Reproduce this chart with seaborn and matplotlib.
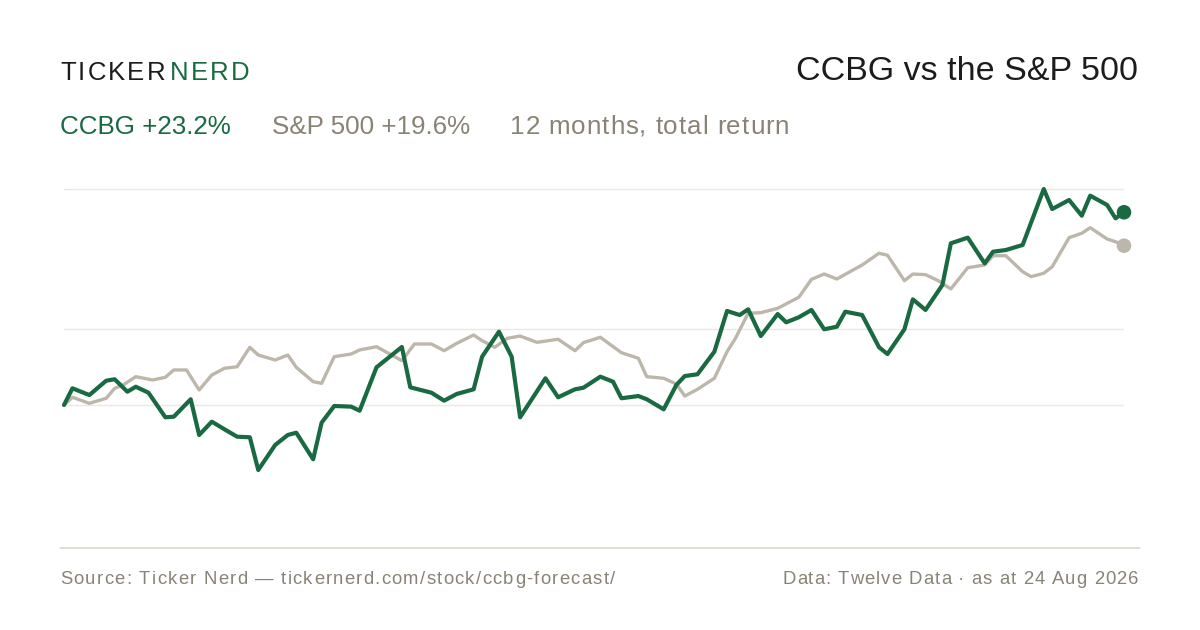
import matplotlib
matplotlib.use("Agg")
import matplotlib.pyplot as plt
import seaborn as sns
import pandas as pd
from matplotlib.lines import Line2D

# ---------------- data (trading-day index, cumulative return %) ----------------
ccbg_day = [0, 2, 6, 10, 12, 15, 17, 20, 24, 26, 30, 32, 35, 38, 41, 44, 46, 50,
            53, 55, 59, 61, 64, 68, 70, 74, 80, 82, 87, 90, 93, 97, 99, 103, 106,
            108, 114, 117, 121, 123, 127, 130, 132, 136, 138, 142, 145, 147, 150,
            154, 157, 160, 162, 165, 169, 171, 174, 177, 180, 183, 185, 189, 193,
            195, 199, 201, 204, 208, 210, 214, 218, 220, 223, 227, 232, 234, 238,
            241, 243, 247, 249, 251]
ccbg_ret = [0.00, 2.01, 1.20, 2.93, 3.10, 1.60, 2.20, 1.48, -1.48, -1.41, 0.69,
            -3.61, -2.01, -2.93, -3.82, -3.89, -7.83, -4.82, -3.61, -3.34, -6.54,
            -2.13, -0.12, -0.20, -0.69, 4.54, 6.99, 2.13, 1.48, 0.52, 1.33, 1.89,
            5.82, 8.83, 5.82, -1.48, 3.22, 0.93, 1.89, 2.08, 3.41, 2.81, 0.81,
            1.08, 0.69, -0.52, 2.41, 3.49, 3.70, 6.42, 11.33, 10.84, 11.53, 8.31,
            10.96, 9.96, 10.57, 11.45, 9.12, 9.43, 11.24, 10.84, 6.95, 6.14, 9.12,
            12.73, 11.45, 14.46, 19.48, 20.16, 17.07, 18.47, 18.67, 19.28, 26.02,
            23.61, 24.70, 22.81, 25.22, 24.10, 22.49, 23.22]

spx_day = [0, 2, 6, 10, 12, 14, 17, 21, 24, 26, 29, 32, 35, 38, 41, 44, 46, 50,
           53, 55, 59, 61, 64, 68, 70, 74, 80, 83, 87, 90, 93, 97, 99, 102, 105,
           108, 112, 117, 121, 123, 127, 132, 136, 138, 142, 145, 147, 150, 154,
           157, 159, 162, 165, 169, 174, 177, 180, 183, 189, 193, 195, 199, 201,
           204, 207, 210, 214, 218, 220, 223, 227, 229, 232, 234, 238, 241, 243,
           247, 249, 251]
spx_ret = [0.00, 0.93, 0.20, 0.81, 2.01, 2.41, 3.41, 3.01, 3.34, 4.22, 4.22,
           1.81, 3.61, 4.42, 4.61, 6.95, 6.02, 5.42, 6.02, 4.54, 2.81, 2.61,
           5.82, 6.14, 6.63, 7.02, 5.34, 7.35, 7.35, 6.54, 7.43, 8.43, 7.75,
           6.95, 8.04, 8.31, 7.55, 7.92, 6.54, 7.51, 8.16, 6.30, 5.63, 3.41,
           3.22, 2.53, 1.08, 1.89, 3.22, 6.42, 8.04, 11.05, 11.12, 11.65, 12.98,
           15.14, 15.78, 15.18, 16.87, 18.28, 18.04, 14.98, 15.78, 15.70, 14.98,
           13.98, 16.54, 16.87, 17.99, 17.99, 16.06, 15.46, 15.87, 16.66, 20.16,
           20.69, 21.36, 20.00, 19.67, 19.19]

grid_levels = [0.0, 9.16, 26.0]

brand_left = "TICKER"
brand_right = "NERD"
title = "CCBG vs the S&P 500"
sub_ccbg = "CCBG +23.2%"
sub_spx = "S&P 500 +19.6%"
sub_note = "12 months, total return"
footer_left = "Source: Ticker Nerd \u2014 tickernerd.com/stock/ccbg-forecast/"
footer_right = "Data: Twelve Data \u00b7 as at 24 Aug 2026"

# ---------------- style ----------------
GREEN = "#196a42"
GRAY_LINE = "#bdb7ab"
TEXT_GRAY = "#888374"
DARK = "#1c1c1c"
GRID = "#ebe8e2"
RULE = "#dcd8cc"

sns.set_theme(style="white")
plt.rcParams["font.family"] = ["Liberation Sans", "DejaVu Sans"]

W, H = 1200, 630
fig = plt.figure(figsize=(12, 6.3), dpi=100, facecolor="white")
ax = fig.add_axes([64 / W, (H - 548) / H, 1060 / W, 373 / H])
ax.set_xlim(0, 251)
ax.set_ylim(-17.23, 27.71)
ax.set_axis_off()

for g in grid_levels:
    ax.axhline(g, color=GRID, lw=1.0, zorder=0)

spx_df = pd.DataFrame({"day": spx_day, "ret": spx_ret})
ccbg_df = pd.DataFrame({"day": ccbg_day, "ret": ccbg_ret})

sns.lineplot(data=spx_df, x="day", y="ret", color=GRAY_LINE, lw=2.4,
             ax=ax, sort=False, zorder=2, clip_on=False)
sns.lineplot(data=ccbg_df, x="day", y="ret", color=GREEN, lw=3.0,
             ax=ax, sort=False, zorder=3, clip_on=False)
sns.scatterplot(x=[spx_day[-1]], y=[spx_ret[-1]], color=GRAY_LINE, s=110,
                edgecolor="none", ax=ax, zorder=4, clip_on=False)
sns.scatterplot(x=[ccbg_day[-1]], y=[ccbg_ret[-1]], color=GREEN, s=110,
                edgecolor="none", ax=ax, zorder=5, clip_on=False)
if ax.get_legend() is not None:
    ax.get_legend().remove()

# bottom rule
fig.add_artist(Line2D([60 / W, 1140 / W], [1 - 548 / H, 1 - 548 / H],
                      transform=fig.transFigure, color=RULE, lw=1.2))

# ---------------- text ----------------
fig.canvas.draw()
renderer = fig.canvas.get_renderer()


def tracked(text, x_px, base_px, size, color, track, ha="left"):
    arts = []
    x = x_px
    for ch in text:
        t = fig.text(x / W, 1 - base_px / H, ch, fontsize=size, color=color,
                     ha="left", va="baseline")
        bb = t.get_window_extent(renderer)
        arts.append(t)
        x = bb.x1 + track
    end = x - track
    if ha == "right":
        shift = x_px - end
        for t in arts:
            px, py = t.get_position()
            t.set_position((px + shift / W, py))
    return end


tracked(brand_left, 60, 80, 18.5, DARK, 2.2)
tracked(brand_right, 170, 80, 18.5, GREEN, 2.2)

fig.text(1138 / W, 1 - 79.5 / H, title, fontsize=24.5, color=DARK,
         ha="right", va="baseline")

fig.text(60 / W, 1 - 133.5 / H, sub_ccbg, fontsize=18.7, color=GREEN,
         ha="left", va="baseline")
fig.text(272 / W, 1 - 133.5 / H, sub_spx, fontsize=18.7, color=TEXT_GRAY,
         ha="left", va="baseline")
tracked(sub_note, 510, 133.5, 18.7, TEXT_GRAY, 0.85)

tracked(footer_left, 60, 584, 13.3, TEXT_GRAY, 1.28)
tracked(footer_right, 1138, 584, 13.3, TEXT_GRAY, 1.05, ha="right")

fig.savefig("out.png", dpi=100, facecolor="white")
